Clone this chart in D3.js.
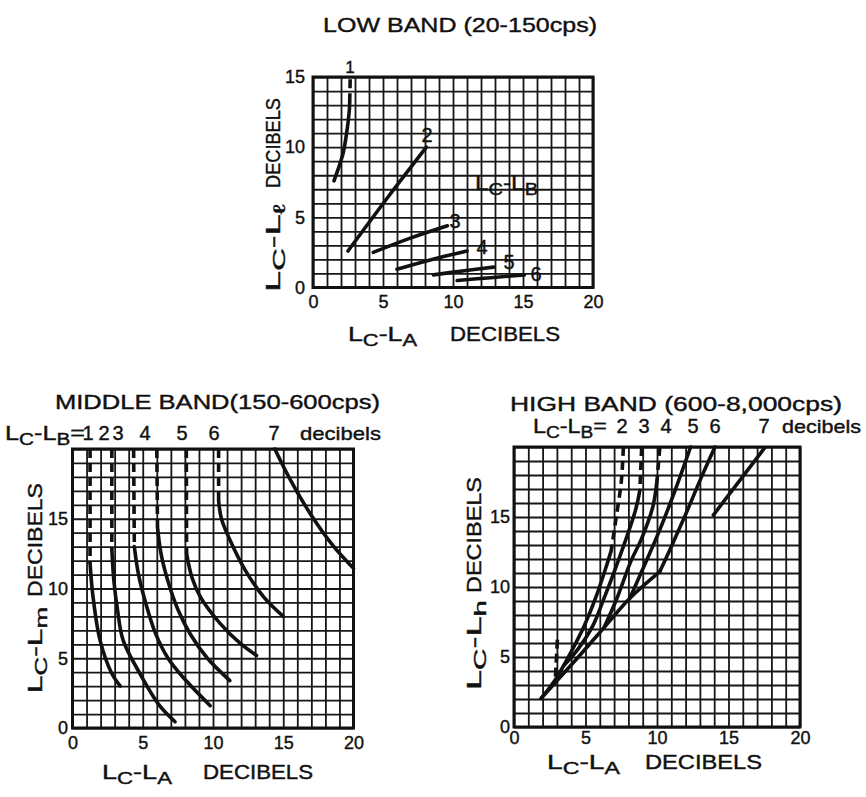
<!DOCTYPE html>
<html><head><meta charset="utf-8">
<script src="https://cdn.jsdelivr.net/npm/d3@7/dist/d3.min.js"></script>
<style>
body{margin:0;background:#fff}
svg{display:block}
text{font-family:"Liberation Sans",Arial,sans-serif;fill:#111;stroke:#111;stroke-width:0.4px}
</style>
</head><body><script>
// ---------------- DATA ----------------
const xTicks = [0, 5, 10, 15, 20];
const yTicksLow = [0, 5, 10, 15];
const yTicksMid = [0, 5, 10, 15];
const yTicksHigh = [0, 5, 10, 15];

// LOW BAND (20-150 cps): points [Lc-LA, Lc-Ll], one curve per Lc-LB value
const lowLabels = ["1", "2", "3", "4", "5", "6"];
const low1Dash = [[2.62, 13.2], [2.66, 15]];
const low1 = [[1.5, 7.6], [1.85, 8.6], [2.16, 9.6], [2.4, 11.0], [2.6, 12.7], [2.62, 13.2]];
const low2 = [[2.5, 2.6], [5.4, 6.5], [8.1, 10.0]];
const low3 = [[4.3, 2.5], [6.9, 3.5], [9.6, 4.4]];
const low4 = [[6.0, 1.3], [8.5, 2.0], [11.0, 2.6]];
const low5 = [[8.6, 0.9], [10.8, 1.2], [12.9, 1.45]];
const low6 = [[10.3, 0.5], [12.7, 0.7], [15.1, 0.9]];

// MIDDLE BAND (150-600 cps): points [Lc-LA, Lc-Lm]
const midLabels = ["1", "2", "3", "4", "5", "6", "7"];
const mid1Dash = [[1.25, 20], [1.25, 11.8]];
const mid1 = [[1.25, 11.8], [1.45, 9.5], [1.96, 6.3], [2.79, 3.92], [3.4, 3.0]];
const mid2Dash = [[2.8, 20], [2.8, 12.8]];
const mid2 = [[2.8, 12.8], [2.95, 10.5], [3.2, 8.5], [3.6, 6.3], [4.8, 3.9], [6.2, 1.6], [7.3, 0.45]];
const mid3Dash = [[4.35, 20], [4.4, 13.0]];
const mid3 = [[4.4, 13.0], [4.7, 11.0], [5.2, 9.0], [5.9, 6.8], [6.8, 5.0], [7.9, 3.6], [9.8, 1.6]];
const mid4Dash = [[6.0, 20], [6.05, 14.4]];
const mid4 = [[6.05, 14.4], [6.3, 12.5], [6.8, 10.5], [7.5, 8.5], [8.4, 6.7], [9.6, 5.0], [11.2, 3.4]];
const mid5Dash = [[8.1, 20], [8.12, 12.5]];
const mid5 = [[8.12, 12.5], [8.5, 10.8], [9.1, 9.4], [10.5, 7.5], [11.9, 6.1], [13.1, 5.2]];
const mid6Dash = [[10.4, 20], [10.4, 16.3]];
const mid6 = [[10.4, 16.3], [10.6, 15.0], [11.2, 13.5], [12.3, 11.3], [13.6, 9.4], [15.0, 8.0]];
const mid7 = [[14.4, 20], [15.5, 17.8], [16.9, 15.4], [18.6, 13.0], [20, 11.45]];

// HIGH BAND (600-8,000 cps): points [Lc-LA, Lc-Lh]
const highLabels = ["2", "3", "4", "5", "6", "7"];
const high2Dash = [[7.65, 20], [7.5, 17.5], [7.15, 15.0], [6.8, 12.6]];
const high2 = [[6.8, 12.6], [6.4, 11.3], [5.7, 9.2], [4.9, 7.2], [3.8, 5.0], [2.9, 3.4], [1.9, 2.05]];
const high2Short = [[2.9, 3.6], [3.05, 6.5]];
const high3Dash = [[8.93, 20], [8.8, 16.9]];
const high3 = [[8.8, 16.9], [8.5, 15.5], [7.3, 11.9], [6.3, 9.2], [5.5, 7.2], [4.5, 5.6], [3.5, 4.4]];
const high4Dash = [[10.2, 20], [10.0, 17.6]];
const high4 = [[10.0, 17.6], [9.7, 15.7], [8.9, 13.4], [8.2, 11.9], [7.2, 9.2], [6.3, 7.1]];
const high5 = [[12.35, 20], [11.3, 17.0], [10.2, 14.1], [9.1, 11.5], [8.1, 9.2]];
const high6 = [[14.05, 20], [13.0, 17.6], [12.05, 15.3], [11.1, 13.1], [10.2, 11.1]];
const high7 = [[13.94, 15.14], [17.5, 19.9]];
const highEdge = [[1.9, 2.05], [3.0, 3.3], [4.5, 5.0], [6.3, 7.1], [8.1, 9.2], [10.2, 11.1]];

// ---------------- LAYOUT ----------------
const W = 866, H = 797;
const svg = d3.select("body").append("svg").attr("width", W).attr("height", H);

const panels = {
  low:  { x0: 313,  x1: 593,   y0: 77,  y1: 287.5, ymax: 15, yTicks: yTicksLow,  xPad: 8,   yPad: 8 },
  mid:  { x0: 72.5, x1: 353.5, y0: 449, y1: 728,   ymax: 20, yTicks: yTicksMid,  xPad: 8.5, yPad: 4.5 },
  high: { x0: 514,  x1: 800,   y0: 447, y1: 727,   ymax: 20, yTicks: yTicksHigh, xPad: 4.5, yPad: 4 }
};

// text with "_X" single-char subscripts
function rich(g, str, x, y, opts = {}) {
  const t = g.append("text").attr("x", x).attr("y", y)
    .attr("font-size", opts.size || 20)
    .attr("text-anchor", opts.anchor || "start");
  if (opts.rotate) t.attr("transform", `rotate(-90,${x},${y})`);
  if (opts.len) t.attr("textLength", opts.len).attr("lengthAdjust", "spacingAndGlyphs");
  let i = 0, buf = "", shifted = false;
  const flush = () => { if (buf) { const s = t.append("tspan").text(buf); if (shifted) { s.attr("dy", -5); shifted = false; } buf = ""; } };
  while (i < str.length) {
    if (str[i] === "_") {
      flush();
      const sub = t.append("tspan").text(str[i + 1]).attr("font-size", "82%");
      sub.attr("dy", shifted ? 0 : 5);
      shifted = true;
      i += 2;
    } else {
      buf += str[i]; i++;
    }
  }
  flush();
  return t;
}

function drawPanel(p) {
  const x = d3.scaleLinear([0, 20], [p.x0, p.x1]);
  const y = d3.scaleLinear([0, p.ymax], [p.y1, p.y0]);
  const g = svg.append("g");
  // grid
  g.append("g").attr("transform", `translate(0,${p.y1})`)
    .call(d3.axisBottom(x).tickValues(d3.range(0, 21)).tickSize(-(p.y1 - p.y0)).tickFormat(""))
    .call(s => { s.select(".domain").remove(); s.selectAll("line").attr("stroke", "#161616").attr("stroke-width", 1.8); });
  g.append("g").attr("transform", `translate(${p.x0},0)`)
    .call(d3.axisLeft(y).tickValues(d3.range(0, p.ymax + 1)).tickSize(-(p.x1 - p.x0)).tickFormat(""))
    .call(s => { s.select(".domain").remove(); s.selectAll("line").attr("stroke", "#161616").attr("stroke-width", 1.8); });
  g.append("rect").attr("x", p.x0).attr("y", p.y0).attr("width", p.x1 - p.x0).attr("height", p.y1 - p.y0)
    .attr("fill", "none").attr("stroke", "#111").attr("stroke-width", 3);
  // tick labels
  const styleTicks = s => { s.select(".domain").remove(); s.selectAll("text").attr("font-size", 18).attr("font-family", "Liberation Sans, Arial, sans-serif").attr("fill", "#111"); };
  g.append("g").attr("transform", `translate(0,${p.y1})`)
    .call(d3.axisBottom(x).tickValues(xTicks).tickSize(0).tickPadding(p.xPad)).call(styleTicks);
  g.append("g").attr("transform", `translate(${p.x0},0)`)
    .call(d3.axisLeft(y).tickValues(p.yTicks).tickSize(0).tickPadding(p.yPad)).call(styleTicks);
  const line = d3.line().x(d => x(d[0])).y(d => y(d[1])).curve(d3.curveCatmullRom.alpha(0.5));
  const draw = (data, dashed) => g.append("path").attr("d", line(data)).attr("fill", "none")
    .attr("stroke", "#111").attr("stroke-width", 3.6).attr("stroke-linecap", dashed ? "butt" : "round")
    .attr("stroke-dasharray", dashed ? "9,5" : null);
  return { g, x, y, draw };
}

// ---------------- LOW BAND ----------------
{
  const P = drawPanel(panels.low);
  P.draw(low1, false); P.draw(low1Dash, true);
  [low2, low3, low4, low5, low6].forEach(d => P.draw(d, false));
  const labelAt = [[2.64, 15.75], [8.14, 10.89], [10.14, 4.75], [12.07, 2.89], [14.0, 1.82], [15.93, 0.96]];
  lowLabels.forEach((l, i) => P.g.append("text").attr("x", P.x(labelAt[i][0])).attr("y", P.y(labelAt[i][1]))
    .attr("dy", "0.36em").attr("text-anchor", "middle").attr("font-size", i === 0 ? 17 : 20).text(l));
  rich(P.g, "L_C-L_B", 475, 190, { size: 20, len: 63 });
  rich(svg, "LOW BAND (20-150cps)", 323, 32, { size: 21, len: 274 });
  rich(svg, "L_C-L_A", 348, 341, { size: 20, len: 69 });
  rich(svg, "DECIBELS", 450, 341, { size: 20, len: 110 });
  rich(svg, "L_C-L_ℓ", 280, 292, { size: 20, len: 88, rotate: true });
  rich(svg, "DECIBELS", 280, 188, { size: 20, len: 90, rotate: true });
}

// ---------------- MIDDLE BAND ----------------
{
  const P = drawPanel(panels.mid);
  [mid1Dash, mid2Dash, mid3Dash, mid4Dash, mid5Dash, mid6Dash].forEach(d => P.draw(d, true));
  [mid1, mid2, mid3, mid4, mid5, mid6, mid7].forEach(d => P.draw(d, false));
  rich(svg, "MIDDLE BAND(150-600cps)", 55, 409, { size: 20, len: 325 });
  rich(svg, "L_C-L_B=", 5, 440, { size: 20, len: 80 });
  const lx = [88, 104, 118, 145, 182, 214, 274];
  midLabels.forEach((l, i) => svg.append("text").attr("x", lx[i]).attr("y", 440).attr("text-anchor", "middle").attr("font-size", 20).text(l));
  rich(svg, "decibels", 300, 440, { size: 19, len: 81 });
  rich(svg, "L_C-L_A", 102, 779, { size: 20, len: 70 });
  rich(svg, "DECIBELS", 203, 779, { size: 20, len: 110 });
  rich(svg, "L_C-L_m", 42, 693, { size: 20, len: 86, rotate: true });
  rich(svg, "DECIBELS", 42, 597, { size: 20, len: 114, rotate: true });
}

// ---------------- HIGH BAND ----------------
{
  const P = drawPanel(panels.high);
  [high2Dash, high3Dash, high4Dash, high2Short].forEach(d => P.draw(d, true));
  [high2, high3, high4, high5, high6, high7, highEdge].forEach(d => P.draw(d, false));
  rich(svg, "HIGH BAND (600-8,000cps)", 510, 411, { size: 20, len: 332 });
  rich(svg, "L_C-L_B=", 533, 433, { size: 20, len: 74 });
  const lx = [622, 644, 666, 693, 715, 764];
  highLabels.forEach((l, i) => svg.append("text").attr("x", lx[i]).attr("y", 433).attr("text-anchor", "middle").attr("font-size", 20).text(l));
  rich(svg, "decibels", 782, 433, { size: 19, len: 79 });
  rich(svg, "L_C-L_A", 547, 769, { size: 20, len: 73 });
  rich(svg, "DECIBELS", 645, 769, { size: 20, len: 117 });
  rich(svg, "L_C-L_h", 481, 690, { size: 20, len: 90, rotate: true });
  rich(svg, "DECIBELS", 481, 593, { size: 20, len: 116, rotate: true });
}
</script></body></html>
